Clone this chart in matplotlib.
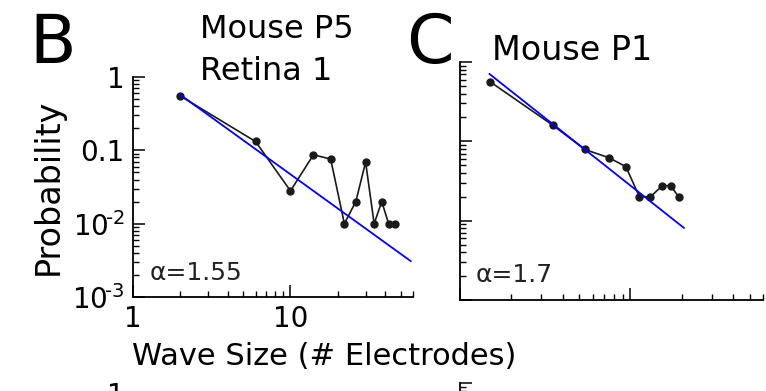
import numpy as np
import matplotlib
matplotlib.use('Agg')
import matplotlib.pyplot as plt
from matplotlib.ticker import LogLocator, FixedLocator, FixedFormatter, NullFormatter

plt.rcParams['font.family'] = 'DejaVu Sans'
plt.rcParams['mathtext.fontset'] = 'dejavusans'

# Mouse P5, retina 1: wave size distribution
size_p5 = [2, 6, 10, 14, 18, 22, 26, 30, 34, 38, 42, 46]
prob_p5 = [0.55, 0.132, 0.028, 0.087, 0.076, 0.01, 0.02, 0.069, 0.01, 0.02, 0.01, 0.01]
fit_x_p5 = [2, 58]
fit_y_p5 = [0.57, 0.00309]
alpha_p5 = '1.55'

# Mouse P1
size_p1 = [1.5, 3.5, 5.4, 7.5, 9.4, 11.3, 13.1, 15.4, 17.2, 19.2]
prob_p1 = [0.565, 0.16, 0.079, 0.062, 0.048, 0.020, 0.020, 0.0276, 0.0276, 0.020]
fit_x_p1 = [1.49, 20.6]
fit_y_p1 = [0.706, 0.00811]
alpha_p1 = '1.7'

y_ticks = [1, 0.1, 0.01, 0.001]
y_ticklabels = ['1', '0.1', '$10^{\\!\\text{-}2}$', '$10^{\\!\\text{-}3}$']
x_ticks = [1, 10]
x_ticklabels = ['1', '10']

W, H = 766, 391


def px_axes(fig, left, top, right, bottom):
    return fig.add_axes([left / W, (H - bottom) / H, (right - left) / W, (bottom - top) / H])


def style_axes(ax, show_x=True, ylabels=None, xlabels=True):
    ax.set_xscale('log')
    ax.set_yscale('log')
    ax.set_xlim(1, 60)
    ax.set_ylim(1e-3, 1)
    for side in ['top', 'right']:
        ax.spines[side].set_visible(False)
    for side in ['left', 'bottom']:
        ax.spines[side].set_linewidth(1.3)
    if not show_x:
        ax.spines['bottom'].set_visible(False)
    ax.tick_params(which='major', direction='in', length=8.5, width=1.1, labelsize=20, pad=6,
                   top=False, right=False, bottom=show_x)
    ax.tick_params(which='minor', direction='in', length=4.2, width=1.0,
                   top=False, right=False, bottom=show_x)
    ax.yaxis.set_major_locator(FixedLocator(y_ticks))
    ax.yaxis.set_minor_locator(LogLocator(base=10, subs=np.arange(2, 10), numticks=20))
    ax.xaxis.set_major_locator(FixedLocator(x_ticks))
    ax.xaxis.set_minor_locator(LogLocator(base=10, subs=np.arange(2, 10), numticks=20))
    ax.yaxis.set_minor_formatter(NullFormatter())
    ax.xaxis.set_minor_formatter(NullFormatter())
    if ylabels:
        ax.yaxis.set_major_formatter(FixedFormatter(ylabels))
    else:
        ax.yaxis.set_major_formatter(NullFormatter())
    if xlabels and show_x:
        ax.xaxis.set_major_formatter(FixedFormatter(x_ticklabels))
    else:
        ax.xaxis.set_major_formatter(NullFormatter())


fig = plt.figure(figsize=(W / 100, H / 100), dpi=100)

# panel B
axB = px_axes(fig, 133, 77, 413, 297)
style_axes(axB, ylabels=y_ticklabels)
axB.plot(size_p5, prob_p5, '-o', color='#1a1a1a', lw=1.2, ms=5)
axB.plot(fit_x_p5, fit_y_p5, '-', color='#0000ff', lw=1.3)
axB.text(150 / W, (H - 280) / H, '\u03b1=' + alpha_p5, transform=fig.transFigure,
         fontsize=18, color='#222222', va='baseline')

# panel C
axC = px_axes(fig, 460, 62, 763, 300)
style_axes(axC, xlabels=False)
axC.plot(size_p1, prob_p1, '-o', color='#1a1a1a', lw=1.2, ms=5)
axC.plot(fit_x_p1, fit_y_p1, '-', color='#0000ff', lw=1.3)
axC.text(476 / W, (H - 282) / H, '\u03b1=' + alpha_p1, transform=fig.transFigure,
         fontsize=18, color='#222222', va='baseline')

# next row of panels, mostly below the bottom edge
axD = px_axes(fig, 133, 393, 413, 613)
style_axes(axD, show_x=False, ylabels=['1', '', '', ''])
axE = px_axes(fig, 460, 383, 763, 621)
style_axes(axE, show_x=False)

# panel letters and titles
fig.text(29 / W, (H - 63) / H, 'B', fontsize=49, va='baseline')
fig.text(406 / W, (H - 63) / H, 'C', fontsize=49, va='baseline')
fig.text(200 / W, (H - 38) / H, 'Mouse P5', fontsize=23, va='baseline')
fig.text(200 / W, (H - 80) / H, 'Retina 1', fontsize=23, va='baseline')
fig.text(492 / W, (H - 60) / H, 'Mouse P1', fontsize=24, va='baseline')

# shared axis labels
fig.text(132 / W, (H - 365) / H, 'Wave Size (# Electrodes)', fontsize=22, va='baseline')
fig.text(48 / W, (H - 187) / H, 'Probability', fontsize=24, rotation=90,
         ha='center', va='center')

fig.savefig('out.png', dpi=100)
